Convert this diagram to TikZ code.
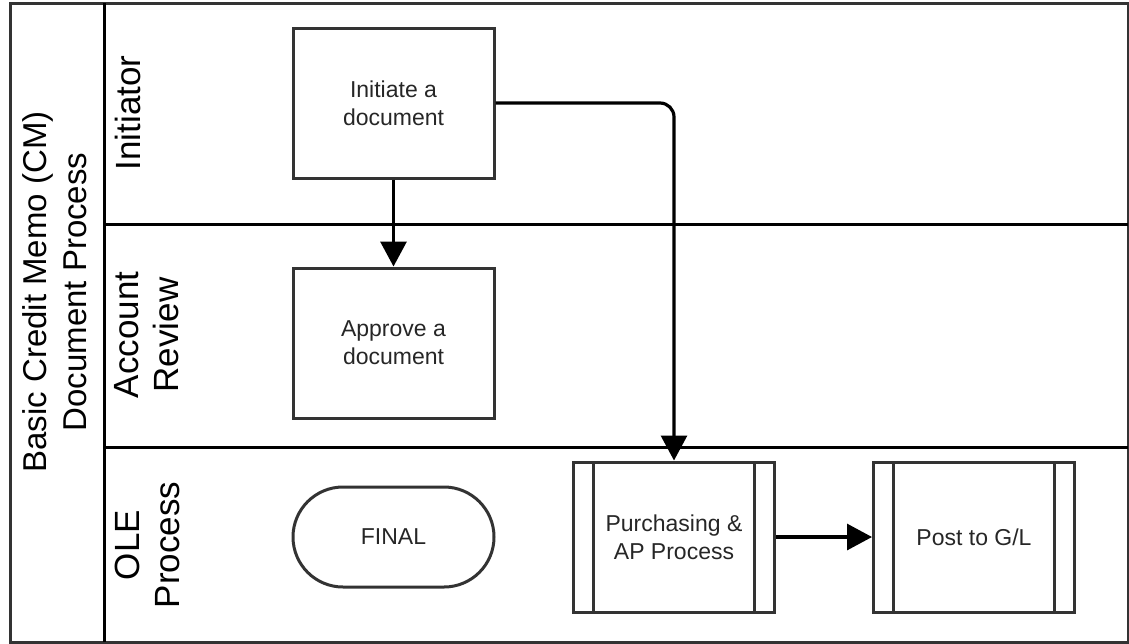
\documentclass[tikz,border=0pt]{standalone}
\usepackage{fontspec}
\setmainfont{Liberation Sans}
\usetikzlibrary{arrows.meta}

\begin{document}
\begin{tikzpicture}[x=1pt,y=-1pt,
  frame/.style={draw=black!80,line width=3pt},
  lane/.style={draw=black,line width=3pt},
  lanelabel/.style={rotate=90,align=center,font=\fontsize{35}{40}\selectfont},
  stepbox/.style={draw=black!80,line width=3pt,minimum width=201pt,
    minimum height=150pt,align=center,inner sep=0pt,text=black!85,
    font=\fontsize{23}{28}\selectfont},
  terminal/.style={stepbox,minimum height=100pt,rounded corners=50pt},
  subproc/.style={stepbox,path picture={
    \draw[line width=3pt,black!80]
      ([xshift=20pt]path picture bounding box.north west) --
      ([xshift=20pt]path picture bounding box.south west)
      ([xshift=-20pt]path picture bounding box.north east) --
      ([xshift=-20pt]path picture bounding box.south east);}},
  flow/.style={line width=3.2pt,-{Triangle[length=25pt,width=26pt]}}]
  \useasboundingbox (0,0) rectangle (1129,643);
  % pool and lanes
  \draw[frame] (10,3) rectangle (1128,642);
  \draw[lane] (104,3) -- (104,642);
  \draw[lane] (104,224) -- (1128,224);
  \draw[lane] (104,447) -- (1128,447);
  \node[lanelabel,font=\fontsize{33}{40}\selectfont] (title) at (55,292)
    {Basic Credit Memo (CM)\\Document Process};
  \node[lanelabel] (initr) at (128,113) {Initiator};
  \node[lanelabel] (acct) at (147,335) {Account\\Review};
  \node[lanelabel] (ole) at (147,545) {OLE\\Process};
  % steps
  \node[stepbox] (init) at (393.5,103) {Initiate a\\document};
  \node[stepbox] (appr) at (393.5,343) {Approve a\\document};
  \node[terminal] (final) at (393.5,537) {FINAL};
  \node[subproc] (purch) at (674,537) {Purchasing \&\\AP Process};
  \node[subproc] (post) at (974,537) {Post to G/L};
  % flows
  \draw[flow] (init) -- (appr);
  \draw[flow,rounded corners=14pt] (init.east) -| (purch.north);
  \draw[flow] (purch) -- (post);
\end{tikzpicture}
\end{document}
